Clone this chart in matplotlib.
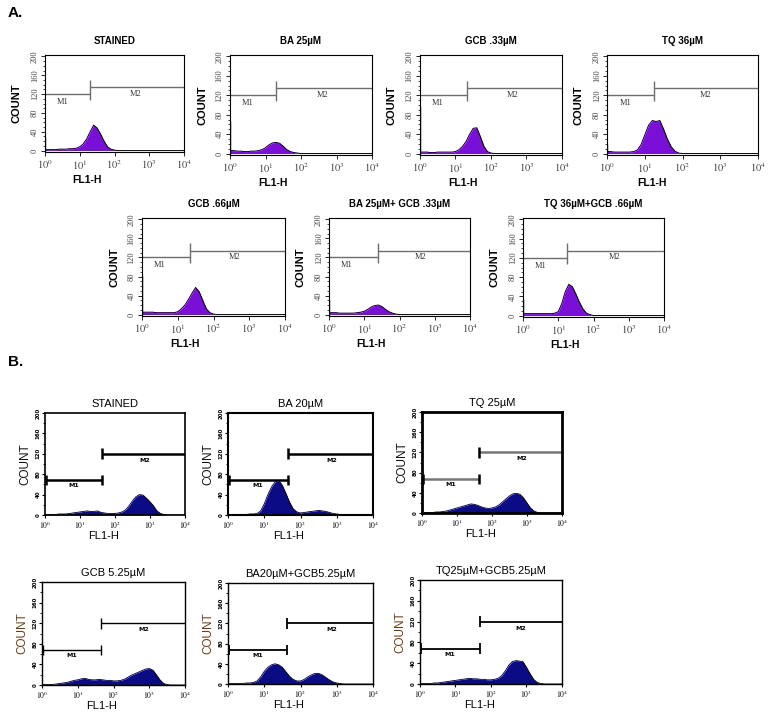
import numpy as np
import matplotlib
matplotlib.use("Agg")
import matplotlib.pyplot as plt
from matplotlib.ticker import FixedLocator, LogLocator, NullFormatter, MultipleLocator

plt.rcParams["mathtext.fontset"] = "stix"

W, H = 770, 712
fig = plt.figure(figsize=(7.7, 7.12), dpi=100)

# log10 fluorescence grid (decades 0..4)
decades = np.round(np.arange(0, 4.01, 0.1), 1)

# ---------------- Panel A data ----------------
a_titles = ["STAINED", "BA 25µM", "GCB .33µM", "TQ 36µM",
            "GCB .66µM", "BA 25µM+ GCB .33µM", "TQ 36µM+GCB .66µM"]
a_spikes = [28, 67, 98, 20, 84, 30, 34]
a_gates = [1.30, 1.30, 1.32, 1.24, 1.34, 1.39, 1.25]
a_stained = [2, 2, 2, 2, 3, 3, 3, 4, 4, 5, 8, 14, 25, 40, 54, 48, 35, 20, 8, 3, 1]
a_ba25 = [6, 6, 5, 5, 4, 4, 5, 5, 6, 8, 12, 18, 22, 23, 21, 15, 8, 4, 2, 1, 0]
a_gcb033 = [3, 3, 3, 2, 2, 3, 3, 3, 3, 3, 4, 8, 15, 25, 40, 52, 53, 35, 15, 4, 1]
a_tq36 = [4, 4, 3, 3, 3, 3, 3, 4, 7, 18, 38, 58, 68, 66, 68, 50, 30, 14, 5, 1, 0]
a_gcb066 = [5, 5, 5, 5, 4, 4, 4, 4, 4, 4, 6, 12, 20, 32, 45, 57, 48, 30, 12, 4, 1]
a_ba_gcb = [4, 4, 4, 3, 3, 3, 3, 3, 4, 5, 7, 11, 16, 19, 20, 17, 11, 6, 3, 1, 0]
a_tq_gcb = [4, 4, 4, 4, 4, 4, 4, 4, 4, 5, 8, 25, 50, 65, 60, 45, 28, 14, 5, 2, 0]
a_counts = [a_stained, a_ba25, a_gcb033, a_tq36, a_gcb066, a_ba_gcb, a_tq_gcb]

# ---------------- Panel B data ----------------
b_titles = ["STAINED", "BA 20µM", "TQ 25µM",
            "GCB 5.25µM", "BA20µM+GCB5.25µM", "TQ25µM+GCB5.25µM"]
b_gates = [1.63, 1.66, 1.63, 1.65, 1.63, 1.69]
b_stained = [1, 1, 1, 1, 2, 2, 2, 3, 4, 5, 6, 7, 8, 7, 7, 8, 5, 4, 3, 3, 3,
             4, 6, 10, 18, 28, 36, 40, 39, 33, 26, 18, 8, 3, 1, 0]
b_ba20 = [1, 1, 1, 1, 1, 1, 2, 2, 3, 8, 22, 40, 55, 65, 68, 58, 42, 25, 12, 6, 4,
          5, 6, 7, 8, 9, 8, 7, 5, 3, 2, 1, 1, 0]
b_tq25 = [1, 1, 1, 1, 2, 2, 3, 4, 6, 8, 10, 12, 14, 16, 18, 17, 15, 12, 10, 9, 10,
          12, 16, 22, 28, 34, 38, 39, 37, 30, 20, 10, 4, 1, 0]
b_gcb = [1, 1, 1, 1, 2, 3, 4, 5, 7, 9, 10, 12, 13, 11, 10, 10, 11, 10, 9, 9, 8,
         8, 9, 11, 15, 19, 22, 25, 28, 31, 32, 29, 20, 10, 3, 1, 0]
b_ba_gcb = [1, 1, 1, 1, 1, 2, 2, 3, 6, 14, 25, 33, 38, 40, 38, 33, 24, 15, 9, 6, 6,
            9, 14, 18, 21, 21, 18, 13, 8, 4, 2, 1, 0]
b_tq_gcb = [1, 1, 1, 1, 2, 2, 3, 4, 5, 6, 7, 8, 9, 10, 11, 10, 10, 9, 9, 8, 8,
            9, 11, 16, 25, 36, 43, 45, 44, 43, 32, 20, 9, 3, 1, 0]
b_counts = [b_stained, b_ba20, b_tq25, b_gcb, b_ba_gcb, b_tq_gcb]

# axes boxes in pixels: (left, right, top, bottom)
a_boxes = [(45, 184, 55, 152), (230, 372, 55, 155), (420, 562, 55, 155), (607, 758, 55, 155),
           (142, 285, 218, 316), (329, 470, 218, 316), (523, 664, 218, 317)]
b_boxes = [(45, 185, 413, 515), (228, 373, 413, 515), (422, 562, 412, 513),
           (42, 185, 582, 685), (228, 373, 583, 684), (420, 562, 580, 684)]
b_gate_lw = [1.8, 1.8, 1.8, 1.0, 1.3, 1.3]
b_gate_col = ["black", "black", "#777777", "black", "black", "black"]
b_frame_lw = [1.2, 1.5, 2.0, 1.0, 1.0, 1.0]

xtick_labels = [r"$10^{0}$", r"$10^{1}$", r"$10^{2}$", r"$10^{3}$", r"$10^{4}$"]


def pad(vals):
    v = np.zeros(len(decades))
    v[:len(vals)] = vals
    return v


def make_ax(box):
    x0, x1, y0, y1 = box
    return fig.add_axes([x0 / W, 1 - y1 / H, (x1 - x0) / W, (y1 - y0) / H])


# ---------------- draw panel A ----------------
for i in range(7):
    ax = make_ax(a_boxes[i])
    wpx = a_boxes[i][1] - a_boxes[i][0]
    hpx = a_boxes[i][3] - a_boxes[i][2]
    x = 10 ** decades
    y = pad(a_counts[i])
    ax.fill_between(x, 0, y, color="#7a10d8", lw=0)
    ax.plot(x, y, color="black", lw=0.7)
    ax.vlines(1.03, 0, a_spikes[i], color="black", lw=1.0)
    ax.set_xscale("log")
    ax.set_xlim(1, 1e4)
    ax.set_ylim(-3, 203)
    g = 10 ** a_gates[i]
    gc = "#6e6e6e"
    ax.hlines(120, 1, g, color=gc, lw=1.0)
    ax.hlines(134, g, 1e4, color=gc, lw=1.0)
    ax.vlines(g, 108, 150, color=gc, lw=1.0)
    ax.text(10 ** 0.5, 104, "M1", fontsize=6, family="Liberation Serif",
            ha="center", va="center", color="#333333")
    ax.text(10 ** 2.6, 121, "M2", fontsize=6, family="Liberation Serif",
            ha="center", va="center", color="#333333")
    ax.xaxis.set_major_locator(FixedLocator([1, 10, 100, 1000, 10000]))
    ax.xaxis.set_minor_locator(LogLocator(base=10, subs=np.arange(2, 10)))
    ax.xaxis.set_minor_formatter(NullFormatter())
    ax.set_xticklabels(xtick_labels, fontsize=7.5, color="#444444")
    ax.yaxis.set_major_locator(FixedLocator([0, 40, 80, 120, 160, 200]))
    ax.yaxis.set_minor_locator(MultipleLocator(10))
    ax.set_yticklabels(["0", "40", "80", "120", "160", "200"], rotation=90,
                       va="center", fontsize=6, family="Liberation Serif", color="#444444")
    ax.tick_params(which="major", length=3, width=0.6, pad=1.5)
    ax.tick_params(which="minor", length=1.5, width=0.5)
    for s in ax.spines.values():
        s.set_linewidth(0.8)
    ax.text(0.5, 1 + 14 / hpx, a_titles[i], transform=ax.transAxes, ha="center",
            va="center", fontsize=7, fontweight="bold", family="Liberation Sans")
    ax.text(0.3, -28 / hpx, "FL1-H", transform=ax.transAxes, ha="center",
            va="center", fontsize=7.5, fontweight="bold", family="Liberation Sans")
    ax.text(-28 / wpx, 0.5, "COUNT", transform=ax.transAxes, ha="center",
            va="center", rotation=90, fontsize=8, fontweight="bold", family="Liberation Sans")

# ---------------- draw panel B ----------------
for i in range(6):
    ax = make_ax(b_boxes[i])
    wpx = b_boxes[i][1] - b_boxes[i][0]
    hpx = b_boxes[i][3] - b_boxes[i][2]
    x = 10 ** decades
    y = pad(b_counts[i])
    ax.fill_between(x, 0, y, color="#0b0b85", lw=0)
    ax.plot(x, y, color="black", lw=0.6)
    ax.set_xscale("log")
    ax.set_xlim(1, 1e4)
    ax.set_ylim(0, 200)
    g = 10 ** b_gates[i]
    lw = b_gate_lw[i]
    gc = b_gate_col[i]
    ax.hlines(68, 1.08, g, color=gc, lw=lw)
    ax.vlines(1.08, 58, 78, color="black", lw=lw)
    ax.vlines(g, 58, 78, color="black", lw=lw)
    ax.hlines(120, g, 1e4, color="black" if i != 2 else "#777777", lw=lw)
    ax.vlines(g, 109, 131, color="black", lw=lw)
    ax.text(10 ** (b_gates[i] / 2), 57, "M1", fontsize=4.5, fontweight="bold",
            ha="center", va="center")
    ax.text(10 ** 2.85, 107, "M2", fontsize=4.5, fontweight="bold",
            ha="center", va="center")
    ax.xaxis.set_major_locator(FixedLocator([1, 10, 100, 1000, 10000]))
    ax.xaxis.set_minor_locator(LogLocator(base=10, subs=np.arange(2, 10)))
    ax.xaxis.set_minor_formatter(NullFormatter())
    ax.set_xticklabels(xtick_labels, fontsize=5.5, fontweight="bold")
    ax.yaxis.set_major_locator(FixedLocator([0, 40, 80, 120, 160, 200]))
    ax.yaxis.set_minor_locator(MultipleLocator(20))
    ax.set_yticklabels(["0", "40", "80", "120", "160", "200"], rotation=90,
                       va="center", fontsize=4, fontweight="bold")
    ax.tick_params(which="major", length=2, width=0.8, pad=1)
    ax.tick_params(which="minor", length=1.2, width=0.6)
    for s in ax.spines.values():
        s.set_linewidth(b_frame_lw[i])
    ax.text(0.5, 1 + 9 / hpx, b_titles[i], transform=ax.transAxes, ha="center",
            va="center", fontsize=8, family="Liberation Sans")
    ax.text(0.42, -21 / hpx, "FL1-H", transform=ax.transAxes, ha="center",
            va="center", fontsize=8, family="Liberation Sans")
    ccol = "#111111" if i < 3 else "#6b3e10"
    ax.text(-20 / wpx, 0.5, "COUNT", transform=ax.transAxes, ha="center",
            va="center", rotation=90, fontsize=8.5, family="Liberation Sans", color=ccol)

fig.text(8 / W, 1 - 13 / H, "A.", fontsize=11, fontweight="bold",
         family="Liberation Sans", va="center", ha="left")
fig.text(8 / W, 1 - 362 / H, "B.", fontsize=11, fontweight="bold",
         family="Liberation Sans", va="center", ha="left")

fig.savefig("out.png", dpi=100)
